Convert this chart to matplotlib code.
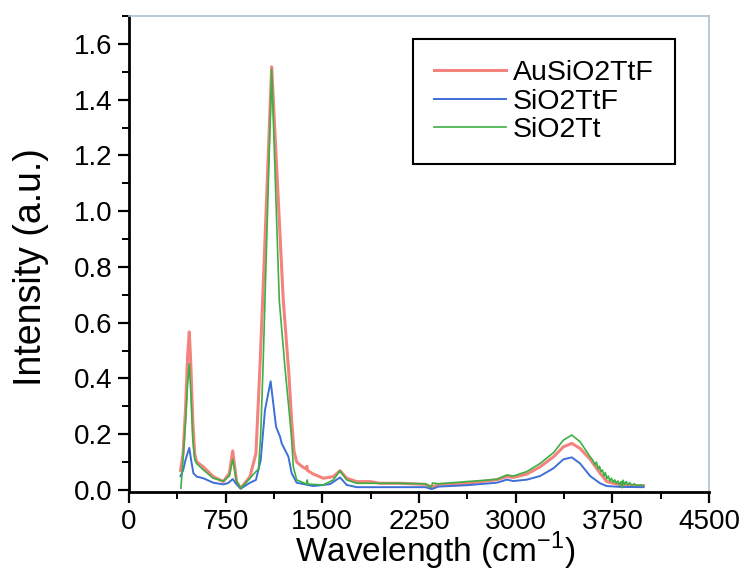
import matplotlib
matplotlib.use("Agg")
import matplotlib.pyplot as plt
from matplotlib.ticker import MultipleLocator

plt.rcParams['font.family'] = ['Liberation Sans', 'DejaVu Sans']
plt.rcParams['mathtext.fontset'] = 'custom'
plt.rcParams['mathtext.rm'] = 'Liberation Sans'

# 読み取った値 (wavenumber cm-1, intensity a.u.)
x_au = [400, 420, 440, 455, 468, 480, 495, 510, 525, 577, 654, 732, 779, 805, 835, 867,
        939, 985, 1016, 1037, 1107, 1197, 1240, 1262, 1280, 1301, 1340, 1375, 1380, 1385,
        1430, 1508, 1585, 1637, 1689, 1767, 1870, 1948, 2103, 2300, 2349, 2400, 2620, 2853,
        2931, 2982, 3086, 3189, 3293, 3370, 3435, 3499, 3577, 3654, 3706, 3810, 3991]
y_au = [0.07, 0.13, 0.30, 0.48, 0.567, 0.45, 0.25, 0.13, 0.101, 0.083, 0.048, 0.030, 0.06, 0.140, 0.03, 0.006,
        0.048, 0.131, 0.44, 0.68, 1.518, 0.68, 0.42, 0.25, 0.14, 0.10, 0.085, 0.075, 0.085, 0.07,
        0.057, 0.042, 0.048, 0.069, 0.042, 0.030, 0.030, 0.024, 0.024, 0.020, 0.010, 0.020, 0.024, 0.037,
        0.048, 0.045, 0.057, 0.083, 0.119, 0.155, 0.167, 0.149, 0.110, 0.060, 0.030, 0.018, 0.015]

x_f = [400, 420, 440, 468, 485, 500, 525, 577, 654, 732, 770, 805, 835, 867, 939, 985,
       1022, 1055, 1099, 1141, 1172, 1185, 1237, 1262, 1301, 1430, 1560, 1637, 1689, 1767,
       2103, 2300, 2349, 2400, 2620, 2853, 2931, 2982, 3086, 3189, 3293, 3370, 3435, 3499,
       3577, 3654, 3706, 3810, 3991]
y_f = [0.05, 0.07, 0.11, 0.151, 0.10, 0.06, 0.048, 0.042, 0.026, 0.020, 0.025, 0.039, 0.020, 0.005, 0.026, 0.036,
       0.107, 0.286, 0.39, 0.227, 0.191, 0.167, 0.119, 0.060, 0.026, 0.014, 0.021, 0.045, 0.018, 0.010,
       0.010, 0.010, 0.003, 0.012, 0.017, 0.026, 0.037, 0.032, 0.037, 0.050, 0.078, 0.110, 0.117, 0.095,
       0.050, 0.024, 0.014, 0.011, 0.010]

x_t = [403, 415, 440, 455, 468, 480, 495, 510, 525, 577, 654, 732, 779, 805, 835, 867,
       939, 985, 1005, 1022, 1040, 1055, 1107, 1166, 1210, 1249, 1262, 1275, 1301, 1379,
       1383, 1388, 1508, 1585, 1637, 1689, 1767, 1948, 2103, 2300, 2345, 2355, 2400, 2620,
       2853, 2931, 2982, 3086, 3189, 3293, 3370, 3435, 3499, 3577, 3600, 3615, 3625, 3640,
       3650, 3660, 3672, 3685, 3695, 3706, 3718, 3730, 3742, 3755, 3768, 3780, 3792, 3805,
       3818, 3825, 3832, 3845, 3858, 3870, 3885, 3900, 3920, 3940, 3960, 3991]
y_t = [0.006, 0.08, 0.25, 0.38, 0.453, 0.35, 0.18, 0.11, 0.095, 0.072, 0.042, 0.032, 0.05, 0.110, 0.03, 0.006,
       0.042, 0.066, 0.075, 0.20, 0.44, 0.68, 1.509, 0.68, 0.44, 0.25, 0.18, 0.083, 0.036, 0.021,
       0.036, 0.021, 0.018, 0.036, 0.069, 0.036, 0.024, 0.024, 0.024, 0.022, 0.010, 0.025, 0.022, 0.030,
       0.038, 0.054, 0.050, 0.066, 0.095, 0.134, 0.179, 0.197, 0.173, 0.119, 0.105, 0.090, 0.100, 0.075,
       0.085, 0.065, 0.072, 0.050, 0.062, 0.040, 0.050, 0.032, 0.042, 0.028, 0.036, 0.024, 0.032, 0.020,
       0.030, 0.008, 0.035, 0.020, 0.030, 0.018, 0.026, 0.016, 0.022, 0.015, 0.018, 0.016]

fig = plt.figure(figsize=(7.41, 5.74), dpi=100)
ax = fig.add_axes([0.174, 0.143, 0.783, 0.829])

ax.plot(x_au, y_au, color='#f4837d', lw=2.2, label='AuSiO2TtF')
ax.plot(x_f, y_f, color='#3d6fd6', lw=1.4, label='SiO2TtF')
ax.plot(x_t, y_t, color='#3cb043', lw=1.2, label='SiO2Tt')

ax.set_xlim(0, 4500)
ax.set_ylim(-0.007, 1.7)
ax.xaxis.set_major_locator(MultipleLocator(750))
ax.xaxis.set_minor_locator(MultipleLocator(375))
ax.yaxis.set_major_locator(MultipleLocator(0.2))
ax.yaxis.set_minor_locator(MultipleLocator(0.1))
ax.yaxis.set_major_formatter(plt.FuncFormatter(lambda v, p: f"{v:.1f}"))

ax.tick_params(which='major', direction='out', length=8, width=1.6, labelsize=20, pad=4,
               top=False, right=False)
ax.tick_params(which='minor', direction='out', length=5, width=1.4, top=False, right=False)
for s in ['left', 'bottom']:
    ax.spines[s].set_linewidth(2)
    ax.spines[s].set_color('black')
for s in ['top', 'right']:
    ax.spines[s].set_linewidth(1.2)
    ax.spines[s].set_color('#a9c1d3')

# 軸ラベル (下端ではみ出さないように少し小さく)
ax.set_xlabel('Wavelength (cm$^{-1}$)', fontsize=24)
ax.set_ylabel('Intensity (a.u.)', fontsize=27)
ax.xaxis.set_label_coords(0.528, -0.080)
ax.yaxis.set_label_coords(-0.138, 0.473)

leg = ax.legend(loc='upper right', bbox_to_anchor=(0.941, 0.952), borderaxespad=0,
                fontsize=20.5, fancybox=False, edgecolor='black', framealpha=1,
                handlelength=2.5, labelspacing=0.08, borderpad=0.75, handletextpad=0.25)
leg.get_frame().set_linewidth(1.5)

plt.savefig('out.png', dpi=100)
